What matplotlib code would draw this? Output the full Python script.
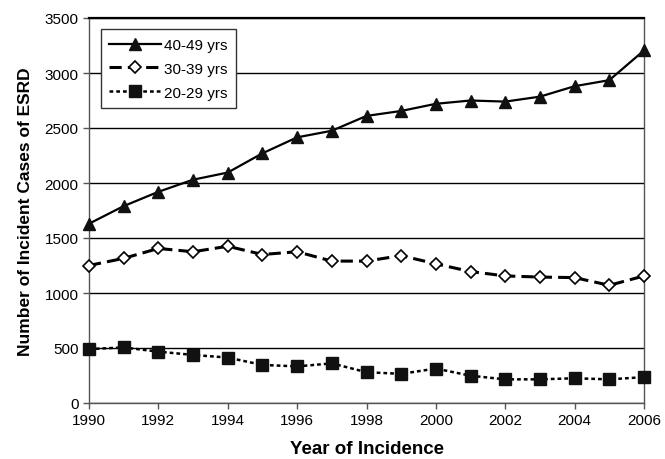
import matplotlib
matplotlib.use("Agg")
import matplotlib.pyplot as plt

plt.rcParams['font.family'] = ['Liberation Sans', 'DejaVu Sans']

years = list(range(1990, 2007))
age_40_49 = [1630, 1790, 1920, 2030, 2095, 2270, 2415, 2475, 2610, 2655, 2720, 2750, 2740, 2785, 2880, 2935, 3205]
age_30_39 = [1250, 1315, 1405, 1375, 1425, 1350, 1375, 1290, 1290, 1340, 1265, 1195, 1155, 1145, 1140, 1070, 1155]
age_20_29 = [490, 505, 467, 437, 413, 346, 333, 360, 280, 265, 313, 248, 215, 215, 225, 215, 235]
labels = ["40-49 yrs", "30-39 yrs", "20-29 yrs"]

fig = plt.figure(figsize=(6.65, 4.6), dpi=100)
ax = fig.add_axes([89 / 665, 1 - 404 / 460, (644 - 89) / 665, (404 - 19) / 460])

ax.plot(years, age_40_49, color="black", lw=1.6, marker="^", ms=9, clip_on=False, zorder=5,
        markerfacecolor="#111111", markeredgecolor="#111111", label=labels[0])
ax.plot(years, age_30_39, color="black", lw=2.2, ls=(0, (4, 2)), marker="D", ms=6.5,
        clip_on=False, zorder=5,
        markerfacecolor="white", markeredgecolor="black", markeredgewidth=1.2, label=labels[1])
ax.plot(years, age_20_29, color="black", lw=1.8, ls=(0, (1.5, 1.2)), marker="s", ms=8,
        clip_on=False, zorder=5,
        markerfacecolor="#111111", markeredgecolor="#111111", label=labels[2])

ax.set_xlim(1990, 2006)
ax.set_ylim(0, 3500)
ax.set_xticks(range(1990, 2007, 2))
ax.set_yticks(range(0, 3501, 500))
ax.yaxis.grid(True, color="black", lw=1.0)
ax.set_axisbelow(True)
for side in ["left", "bottom", "right"]:
    ax.spines[side].set_color("#555555")
    ax.spines[side].set_linewidth(1.0)
ax.spines["top"].set_linewidth(1.6)
ax.tick_params(direction="out", length=4, width=1, color="#555555", labelsize=11)

ax.set_xlabel("Year of Incidence", fontsize=13.5, fontweight="bold", labelpad=9)
ax.set_ylabel("Number of Incident Cases of ESRD", fontsize=12.5, fontweight="bold", labelpad=8)

leg = ax.legend(loc="upper left", bbox_to_anchor=(0.008, 0.99), fontsize=11,
                frameon=True, fancybox=False, edgecolor="#333333", framealpha=1,
                handlelength=3.4, borderpad=0.55, labelspacing=0.65, handletextpad=0.2)
leg.get_frame().set_linewidth(1.0)

fig.savefig("out.png", dpi=100)
